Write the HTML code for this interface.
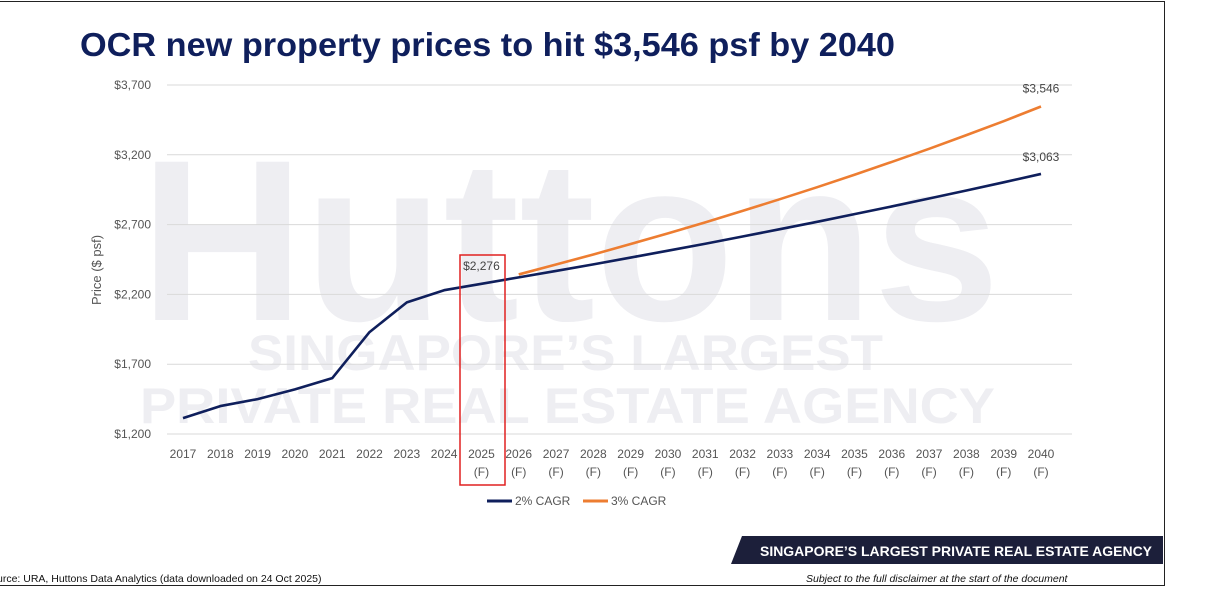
<!DOCTYPE html>
<html><head><meta charset="utf-8"><style>
body{margin:0;width:1216px;height:598px;background:#fff;overflow:hidden;font-family:"Liberation Sans",sans-serif}
#frame{position:absolute;left:0;top:1px;width:1164px;height:583px;border:1px solid #222;border-left:none}
</style></head><body>
<div id="frame"></div>
<svg id="chart" width="1216" height="598" style="position:absolute;left:0;top:0">
<text x="80" y="56" font-size="33" font-weight="bold" fill="#0f1f5c" font-family="Liberation Sans Narrow, Liberation Sans, sans-serif" textLength="815" lengthAdjust="spacingAndGlyphs">OCR new property prices to hit $3,546 psf by 2040</text>
<g fill="#eeeef2" font-weight="bold" font-family="Liberation Sans, sans-serif">
<text x="140" y="320" font-size="230" textLength="860" lengthAdjust="spacingAndGlyphs">Huttons</text>
<text x="248" y="370" font-size="50" textLength="635" lengthAdjust="spacingAndGlyphs">SINGAPORE’S LARGEST</text>
<text x="140" y="423" font-size="50" textLength="855" lengthAdjust="spacingAndGlyphs">PRIVATE REAL ESTATE AGENCY</text>
</g>
<g id="grid"></g><g id="lines"></g><g id="labels"></g>
<text transform="translate(101,270) rotate(-90)" text-anchor="middle" font-size="13" fill="#555">Price ($ psf)</text>
<rect x="460" y="255" width="45" height="230" fill="none" stroke="#e02020" stroke-width="1.5"/>
<g font-size="12" fill="#555">
<line x1="487" y1="501" x2="512" y2="501" stroke="#0f1f5c" stroke-width="3"/>
<text x="515" y="505">2% CAGR</text>
<line x1="583" y1="501" x2="608" y2="501" stroke="#ed7d31" stroke-width="3"/>
<text x="611" y="505">3% CAGR</text>
</g>
<polygon points="742,536 1163,536 1163,564 731,564" fill="#1c1f3a"/>
<text x="760" y="556" font-size="14" font-weight="bold" fill="#fff" textLength="392" lengthAdjust="spacingAndGlyphs">SINGAPORE’S LARGEST PRIVATE REAL ESTATE AGENCY</text>
<text x="-3" y="582" font-size="10.5" fill="#111">urce: URA, Huttons Data Analytics (data downloaded on 24 Oct 2025)</text>
<text x="806" y="582" font-size="10.5" font-style="italic" fill="#111">Subject to the full disclaimer at the start of the document</text>
</svg>
<script>
const categories=["2017","2018","2019","2020","2021","2022","2023","2024","2025","2026","2027","2028","2029","2030","2031","2032","2033","2034","2035","2036","2037","2038","2039","2040"];
const cagr2=[1314,1400,1450,1520,1600,1930,2143,2230,2276,2322,2368,2415,2464,2513,2563,2615,2667,2720,2775,2830,2887,2944,3003,3063];
const cagr3=[null,null,null,null,null,null,null,null,null,2343,2414,2486,2561,2637,2716,2798,2882,2968,3057,3149,3243,3341,3441,3546];
const yTicks=[1200,1700,2200,2700,3200,3700];
const ns="http://www.w3.org/2000/svg";
const x=i=>183+i*(1041-183)/(categories.length-1);
const y=v=>434-(v-1200)*(349/2500);
function mk(t,a,p){const e=document.createElementNS(ns,t);for(const k in a)e.setAttribute(k,a[k]);p.appendChild(e);return e;}
const grid=document.getElementById('grid'),lines=document.getElementById('lines'),labels=document.getElementById('labels');
yTicks.forEach(v=>{
 const l=mk('line',{x1:167,x2:1072,y1:y(v),y2:y(v),stroke:'#d9d9d9','stroke-width':1},grid);
 
 
 const t=mk('text',{x:151,y:y(v)+4,'text-anchor':'end','font-size':12,fill:'#555'},grid);
 t.textContent='$'+v.toLocaleString('en-US');
 
 
});
categories.forEach((c,i)=>{
 const t=mk('text',{x:x(i),y:458,'text-anchor':'middle','font-size':12,fill:'#555'},labels);
 t.textContent=c;
 
 
 if(i>=8){const f=mk('text',{x:x(i),y:476,'text-anchor':'middle','font-size':12,fill:'#555'},labels);
 f.textContent='(F)';
 
 }
});
function series(vals,color,name){
 const pts=vals.map((v,i)=>v==null?null:x(i)+','+y(v)).filter(p=>p);
 const p=mk('polyline',{points:pts.join(' '),fill:'none',stroke:color,'stroke-width':2.6,'stroke-linejoin':'round'},lines);
 
 
}
series(cagr3,'#ed7d31','line-3pct-cagr');
series(cagr2,'#0f1f5c','line-2pct-cagr');
function lab(i,v,dy,name){
 const t=mk('text',{x:x(i),y:y(v)+dy,'text-anchor':'middle','font-size':12,fill:'#444'},labels);
 t.textContent='$'+v.toLocaleString('en-US');
 
 
}
lab(8,cagr2[8],-14,'label-2025');
lab(23,cagr2[23],-13,'label-2040-2pct');
lab(23,cagr3[23],-14,'label-2040-3pct');
</script>
</body></html>
